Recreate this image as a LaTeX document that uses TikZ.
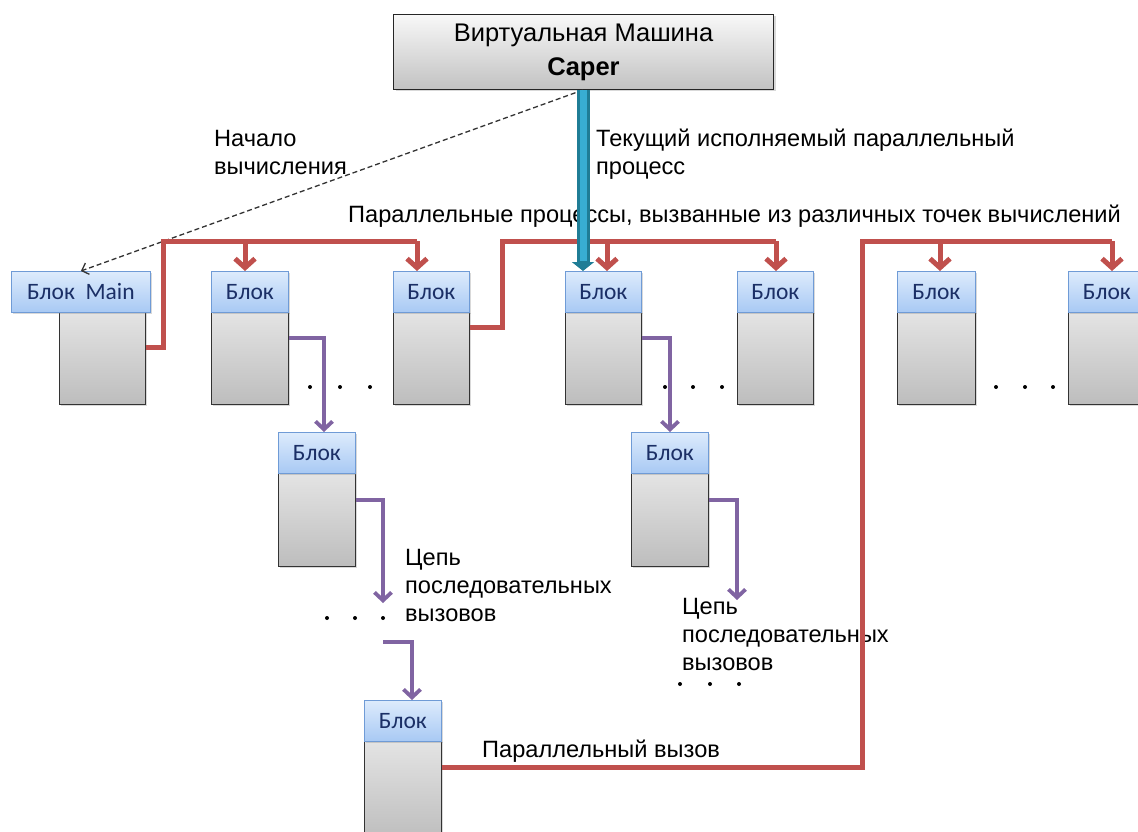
\documentclass[tikz,border=0pt]{standalone}
\usepackage{fontspec}
\setmainfont{Liberation Sans}
\newfontfamily\blkfont{Carlito}
\usetikzlibrary{arrows.meta,shadows}
\definecolor{redl}{HTML}{C0504D}
\definecolor{purl}{HTML}{8064A2}
\definecolor{bluel}{HTML}{38AED3}
\definecolor{bluedk}{HTML}{1F7D96}
\definecolor{hdrtop}{HTML}{DDEBFC}
\definecolor{hdrbot}{HTML}{A8C9F4}
\definecolor{hdrborder}{HTML}{6F9BD6}
\definecolor{bodytop}{HTML}{E4E4E4}
\definecolor{bodybot}{HTML}{BDBDBD}
\definecolor{blktext}{HTML}{1B2F66}
\definecolor{vmtop}{HTML}{F8F8F8}
\definecolor{vmbot}{HTML}{C2C2C2}
\tikzset{
  shad/.style={drop shadow={opacity=0.3, shadow xshift=2pt, shadow yshift=-2pt}},
  hdr/.style={draw=hdrborder, line width=0.8pt, top color=hdrtop, bottom color=hdrbot, minimum height=41pt, inner sep=0pt, anchor=north west, font=\blkfont\fontsize{23.5}{26}\selectfont, text=blktext, shad},
  bodybox/.style={draw=black!80, line width=0.9pt, top color=bodytop, bottom color=bodybot, minimum height=93pt, inner sep=0pt, anchor=north west, shad},
  lbl/.style={font=\fontsize{23.6}{28}\selectfont, anchor=base west, inner sep=0pt},
  redline/.style={draw=redl, line width=5pt, line join=miter},
  redarrow/.style={draw=redl, line width=5pt, -{Straight Barb[length=9pt,width=20pt]}},
  purline/.style={draw=purl, line width=3.8pt, -{Straight Barb[length=8pt,width=17pt]}},
  dotpt/.style={fill=black}
}
\begin{document}
\begin{tikzpicture}[x=1pt,y=-1pt]
\useasboundingbox (0,0) rectangle (1138,832);
\clip (0,0) rectangle (1138,832);

% VM box
\node[draw=black!85, line width=1pt, top color=vmtop, bottom color=vmbot, minimum width=380pt, minimum height=75pt, anchor=north west, inner sep=0pt, align=center, font=\fontsize{25.5}{34}\selectfont, shad] (vm) at (393,14) {Виртуальная Машина\\\textbf{Caper}};

% bodies
\node[bodybox, minimum width=86pt] (b1) at (59,311) {};
\node[bodybox, minimum width=77pt] (b2) at (211,311) {};
\node[bodybox, minimum width=76pt] (b3) at (393,311) {};
\node[bodybox, minimum width=76pt] (b4) at (565,311) {};
\node[bodybox, minimum width=76pt] (b5) at (737,311) {};
\node[bodybox, minimum width=78pt] (b6) at (897,311) {};
\node[bodybox, minimum width=77pt] (b7) at (1068,311) {};
\node[bodybox, minimum width=77pt] (b8) at (278,473) {};
\node[bodybox, minimum width=77pt] (b9) at (631,473) {};
\node[bodybox, minimum width=77pt, minimum height=100pt] (b10) at (364,740) {};

% headers
\node[hdr, minimum width=139pt] (h1) at (11,271) {Блок\ \ Main};
\node[hdr, minimum width=77pt] (h2) at (211,271) {Блок};
\node[hdr, minimum width=76pt] (h3) at (393,271) {Блок};
\node[hdr, minimum width=76pt] (h4) at (565,271) {Блок};
\node[hdr, minimum width=76pt] (h5) at (737,271) {Блок};
\node[hdr, minimum width=78pt] (h6) at (897,271) {Блок};
\node[hdr, minimum width=77pt] (h7) at (1068,271) {Блок};
\node[hdr, minimum width=77pt] (h8) at (278,432) {Блок};
\node[hdr, minimum width=77pt] (h9) at (631,432) {Блок};
\node[hdr, minimum width=77pt] (h10) at (364,700) {Блок};

% labels
\node[lbl] (start1) at (214,147) {Начало};
\node[lbl] (start2) at (214,175) {вычисления};
\node[lbl] (cur1) at (596,147) {Текущий исполняемый параллельный};
\node[lbl] (cur2) at (596,175) {процесс};
\node[lbl] (par) at (348,222) {Параллельные процессы, вызванные из различных точек вычислений};
\node[lbl] (ch1a) at (405,565) {Цепь};
\node[lbl] (ch1b) at (405,593) {последовательных};
\node[lbl] (ch1c) at (405,621) {вызовов};
\node[lbl] (ch2a) at (682,614) {Цепь};
\node[lbl] (ch2b) at (682,642) {последовательных};
\node[lbl] (ch2c) at (682,670) {вызовов};
\node[lbl] (pcall) at (482,757) {Параллельный вызов};

% dots
\foreach \x/\y in {310/387,340/387,370/387, 665/387,693/387,722/387, 996/387,1025/387,1053/387, 327/618,355/618,383/618, 680/684,710/684,739/684}
  \fill[dotpt] (\x,\y) circle (2pt);

% dashed start arrow
\draw[dash pattern=on 5pt off 3pt, draw=black!80, line width=1.3pt, -{Straight Barb[length=6pt,width=12pt]}] (583,0 |- vm.south) -- (h1.north);

% red lines
\draw[redline] ([yshift=10pt]b1.east) -| (163,241) -- (417,241);
\draw[redarrow] (245,241) -- (245,0 |- h2.north);
\draw[redarrow] (417,241) -- (417,0 |- h3.north);

\draw[redline] ([yshift=30pt]b3.east) -| (502,241) -- (776,241);
\draw[redarrow] (607,241) -- (607,0 |- h4.north);
\draw[redarrow] (776,241) -- (776,0 |- h5.north);

\draw[redline] ([yshift=23pt]b10.east) -| (862,241) -- (1112,241);
\draw[redarrow] (940,241) -- (940,0 |- h6.north);
\draw[redarrow] (1112,241) -- (1112,0 |- h7.north);

% blue current process
\draw[draw=bluedk, line width=13pt, -{Triangle[length=9pt,width=22pt]}] (583,0 |- vm.south) -- (583,0 |- h4.north);
\draw[draw=bluel, line width=7pt] (583,0 |- vm.south) -- ([yshift=10pt]583,0 |- h4.north);

% purple chains
\coordinate (c1) at (383,603);
\coordinate (c2) at (383,642);
\coordinate (c3) at (737,600);
\draw[purline] ([yshift=20pt]b2.east) -| (324,0 |- h8.north);
\draw[purline] ([yshift=20pt]b8.east) -| (c1);
\draw[purline] (c2) -| (412,0 |- h10.north);
\draw[purline] ([yshift=20pt]b4.east) -| (670,0 |- h9.north);
\draw[purline] ([yshift=20pt]b9.east) -| (c3);
\end{tikzpicture}
\end{document}
